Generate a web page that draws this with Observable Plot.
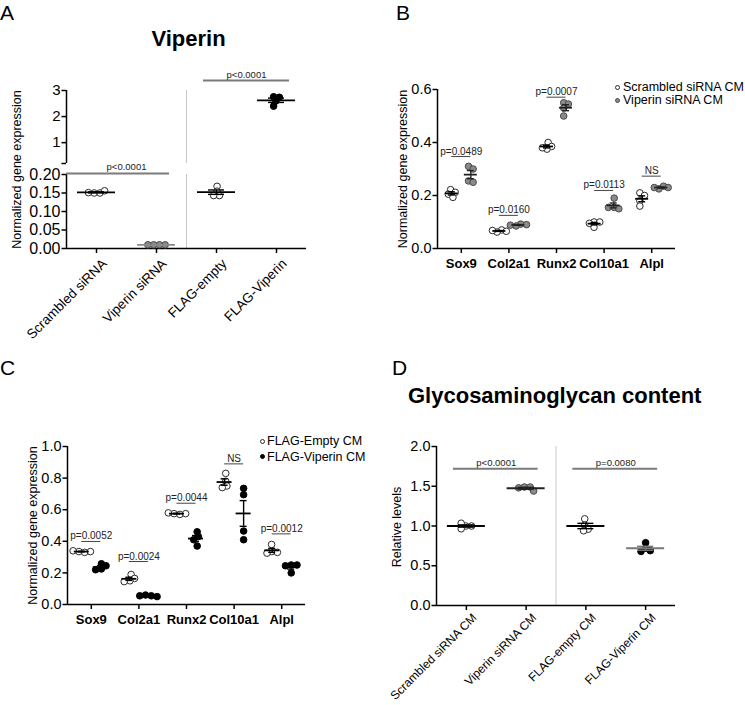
<!DOCTYPE html>
<html><head><meta charset="utf-8">
<script src="https://cdn.jsdelivr.net/npm/d3@7"></script>
<script src="https://cdn.jsdelivr.net/npm/@observablehq/plot@0.6"></script>
<style>
body{margin:0;background:#fff;}
#fig{position:relative;width:745px;height:705px;overflow:hidden;font-family:"Liberation Sans",Arial,Helvetica,sans-serif;color:#000;background:#fff;}
.abs{position:absolute;line-height:1;white-space:nowrap;}
.dot{position:absolute;width:5px;height:5px;border-radius:50%;box-sizing:border-box;}
</style></head><body><div id="fig"></div>
<script>
// ---------------- DATA ----------------
// Panel A: Viperin expression
const aGroups = ["Scrambled siRNA", "Viperin siRNA", "FLAG-empty", "FLAG-Viperin"];
const aScrambled = [0.150, 0.150, 0.151, 0.156];
const aViperinSi = [0.010, 0.010, 0.010, 0.010];
const aFlagEmpty = [0.168, 0.155, 0.143, 0.143];
const aFlagViperin = [2.76, 2.74, 2.60, 2.40];
const aPLabels = ["p<0.0001", "p<0.0001"];
const aBracketY = [0.203, 3.38];
const aTicksLow = [0, 0.05, 0.10, 0.15, 0.20];
const aTicksHigh = [0.2, 1, 2, 3];

// Panel B: Scrambled vs Viperin siRNA CM
const genes = ["Sox9", "Col2a1", "Runx2", "Col10a1", "Alpl"];
const bScrambled = [[0.222,0.212,0.205,0.193],[0.070,0.065,0.062,0.068],[0.400,0.385,0.375,0.380],[0.100,0.100,0.080,0.095],[0.210,0.200,0.180,0.160]];
const bViperin   = [[0.310,0.300,0.255,0.250],[0.092,0.090,0.085,0.088],[0.550,0.545,0.530,0.500],[0.190,0.155,0.150,0.155],[0.235,0.230,0.225,0.230]];
const bPLabels = ["p=0.0489","p=0.0160","p=0.0007","p=0.0113","NS"];
const bBracketY = [0.347,0.125,0.571,0.219,0.273];
const bTicks = [0, 0.2, 0.4, 0.6];
const bLegend = ["Scrambled siRNA CM", "Viperin siRNA CM"];

// Panel C: FLAG-Empty vs FLAG-Viperin CM
const cEmpty   = [[0.335,0.330,0.340,0.335],[0.190,0.165,0.150,0.145],[0.575,0.570,0.580,0.575],[0.830,0.780,0.750,0.740],[0.380,0.335,0.330,0.325]];
const cViperin = [[0.258,0.245,0.225,0.220],[0.060,0.055,0.055,0.050],[0.460,0.430,0.410,0.370],[0.735,0.695,0.465,0.410],[0.250,0.250,0.245,0.200]];
const cPLabels = ["p=0.0052","p=0.0024","p=0.0044","NS","p=0.0012"];
const cBracketY = [0.399,0.272,0.641,0.890,0.447];
const cTicks = [0, 0.2, 0.4, 0.6, 0.8, 1.0];
const cLegend = ["FLAG-Empty CM", "FLAG-Viperin CM"];

// Panel D: Glycosaminoglycan content
const dGroups = ["Scrambled siRNA CM", "Viperin siRNA CM", "FLAG-empty CM", "FLAG-Viperin CM"];
const dScrambled = [1.00, 1.00, 0.965, 1.035];
const dViperinSi = [1.49, 1.49, 1.48, 1.44];
const dFlagEmpty = [1.09, 1.01, 0.96, 0.94];
const dFlagViperin = [0.79, 0.72, 0.69, 0.68];
const dPLabels = ["p<0.0001", "p=0.0080"];
const dBracketY = [1.72, 1.72];
const dTicks = [0, 0.5, 1.0, 1.5, 2.0];

// ---------------- STYLE ----------------
const FONT = '"Liberation Sans", Arial, Helvetica, sans-serif';
const R = 3.3;
const OPEN  = {fill: "white",   stroke: "#2b2b2b", line: "black"};
const GRAY  = {fill: "#8a8a8a", stroke: "#4a4a4a", line: "#222"};
const GRAYL = {fill: "#8a8a8a", stroke: "#4a4a4a", line: "#8a8a8a"};
const BLACK = {fill: "black",   stroke: "black",   line: "black"};
const fig = document.getElementById("fig");

function swarm(vals, ypx, r) {
  const minD = 2 * r * 0.72, step = r * 0.35, placed = [];
  for (const v of vals) {
    const py = ypx(v);
    let dx = 0;
    for (let k = 0; k < 400; k++) {
      const c = (k % 2 ? 1 : -1) * Math.ceil(k / 2) * step;
      if (placed.every(p => Math.hypot(c - p.dx, py - p.py) >= minD)) { dx = c; break; }
    }
    placed.push({dx, py});
  }
  const e = d3.extent(placed, p => p.dx), s = (e[0] + e[1]) / 2;
  return placed.map(p => p.dx - s);
}

function ctxOf(c) {
  return {...c, step: (c.width - c.ml - c.mr) / c.n,
          ypx: d3.scaleLinear(c.yDomain, [c.height - c.mb, c.mt])};
}

function groupMarks(ctx, x, values, st, meanHalf, capHalf) {
  const offs = swarm(values, ctx.ypx, R);
  const pts = values.map((v, i) => ({x: x + offs[i] / ctx.step, y: v}));
  const m = d3.mean(values), se = d3.deviation(values) / Math.sqrt(values.length);
  const mh = meanHalf / ctx.step, ch = capHalf / ctx.step;
  return [
    Plot.dot(pts, {x: "x", y: "y", r: R, fill: st.fill, stroke: st.stroke, strokeWidth: 1}),
    Plot.ruleX([x], {y1: m - se, y2: m + se, stroke: st.line, strokeWidth: 1.4}),
    Plot.ruleY([m - se, m + se], {x1: x - ch, x2: x + ch, stroke: st.line, strokeWidth: 1.4}),
    Plot.ruleY([m], {x1: x - mh, x2: x + mh, stroke: st.line, strokeWidth: 1.8})
  ];
}

function makePlot(ctx, marks) {
  return Plot.plot({
    width: ctx.width, height: ctx.height,
    marginLeft: ctx.ml, marginRight: ctx.mr, marginTop: ctx.mt, marginBottom: ctx.mb,
    x: {type: "linear", domain: [-0.5, ctx.n - 0.5], axis: null, label: null},
    y: {type: "linear", domain: ctx.yDomain, axis: null, label: null},
    style: {fontFamily: FONT, fontSize: "12px", color: "black", background: "transparent", overflow: "visible"},
    marks
  });
}

function place(el, left, top) {
  const d = document.createElement("div");
  d.style.cssText = `position:absolute;left:${left}px;top:${top}px;`;
  d.append(el);
  fig.append(d);
}

function text(str, left, top, size, extra = "") {
  const d = document.createElement("div");
  d.className = "abs";
  d.style.cssText += `left:${left}px;top:${top}px;font-size:${size}px;${extra}`;
  d.textContent = str;
  fig.append(d);
  return d;
}
function legendDot(cx, cy, st) {
  const d = document.createElement("div");
  d.className = "dot";
  d.style.left = (cx - 2.5) + "px"; d.style.top = (cy - 2.5) + "px";
  d.style.background = st.fill; d.style.border = `1px solid ${st.stroke}`;
  fig.append(d);
}

function yAxis(ticks, fmt, size = 14.5) {
  return Plot.axisY({ticks, tickFormat: fmt, tickSize: 4.5, tickPadding: 1.5, fontSize: size, strokeWidth: 1.5, label: null});
}
function xTicks(n) {
  return Plot.axisX({ticks: d3.range(n), tickFormat: () => "", tickSize: 5, strokeWidth: 1.5, label: null});
}
function yLabel(str, dx, dy = 0, size = 12.5) {
  return Plot.text([str], {text: d => d, frameAnchor: "left", rotate: -90, dx, dy, fontSize: size, textAnchor: "middle", lineAnchor: "middle", fill: "black"});
}
function rotLabels(labels, y0, size, dy = 16) {
  return Plot.text(labels, {x: (d, i) => i, y: y0, text: d => d, rotate: -45, textAnchor: "end", lineAnchor: "bottom", dx: 11, dy, fontSize: size, fill: "black"});
}

// ---------------- PANEL A ----------------
{
  const low = ctxOf({width: 370, height: 345, ml: 66, mr: 64, mt: 174, mb: 97, n: 4, yDomain: [0, 0.2]});
  const high = ctxOf({width: 370, height: 170, ml: 66, mr: 64, mt: 90, mb: 7, n: 4, yDomain: [0.2, 3]});
  const ext = 13 / low.step;
  const lowMarks = [
    Plot.ruleX([1.5], {stroke: "#c8c8c8", strokeWidth: 1}),
    Plot.ruleX([-0.5], {stroke: "black", strokeWidth: 1.5}),
    Plot.ruleY([0], {stroke: "black", strokeWidth: 1.5}),
    yAxis(aTicksLow, d3.format(".2f"), 16),
    xTicks(4),
    rotLabels(aGroups, 0, 13.5),
    yLabel("Normalized gene expression", -50, -42),
    Plot.ruleY([aBracketY[0]], {x1: -0.5, x2: 1 + ext, stroke: "#7b7b7b", strokeWidth: 2}),
    Plot.text([aPLabels[0]], {x: 0.5, y: aBracketY[0], text: d => d, dy: -3, lineAnchor: "bottom", fontSize: 9.5, fill: "#222"}),
    ...groupMarks(low, 0, aScrambled, OPEN, 19, 8),
    ...groupMarks(low, 1, aViperinSi, GRAYL, 19, 8),
    ...groupMarks(low, 2, aFlagEmpty, OPEN, 19, 8)
  ];
  const highMarks = [
    Plot.ruleX([1.5], {stroke: "#c8c8c8", strokeWidth: 1}),
    Plot.ruleX([-0.5], {stroke: "black", strokeWidth: 1.5}),
    yAxis(aTicksHigh, d => d < 0.5 ? "" : d3.format("d")(d), 15),
    Plot.ruleY([aBracketY[1]], {x1: 2 - ext, x2: 3 + ext, stroke: "#7b7b7b", strokeWidth: 2}),
    Plot.text([aPLabels[1]], {x: 2.5, y: aBracketY[1], text: d => d, dy: -3, lineAnchor: "bottom", fontSize: 9.5, fill: "#222"}),
    ...groupMarks(high, 3, aFlagViperin, BLACK, 19, 8)
  ];
  place(makePlot(low, lowMarks), 0, 0);
  place(makePlot(high, highMarks), 0, 0);
  text("A", 0, 2, 21);
  text("Viperin", 0, 28.4, 22, "font-weight:bold;width:377px;text-align:center;");
}

// ---------------- PANELS B & C ----------------
function genePanel(ctx, g1, g2, st1, st2, pLabels, bracketY, ticks, label, meanHalf) {
  const off = 0.2;
  const marks = [
    Plot.ruleX([-0.5], {stroke: "black", strokeWidth: 1.5}),
    Plot.ruleY([ctx.yDomain[0]], {stroke: "black", strokeWidth: 1.5}),
    yAxis(ticks, d3.format(".1f")),
    xTicks(ctx.n),
    Plot.text(genes, {x: (d, i) => i, y: ctx.yDomain[0], text: d => d, dy: 15, fontWeight: "bold", fontSize: 13, lineAnchor: "middle", fill: "black"}),
    yLabel(label, -35),
    Plot.ruleY(bracketY, {x1: (d, i) => i - off, x2: (d, i) => i + off, y: d => d, stroke: "#444", strokeWidth: 1}),
    Plot.text(pLabels, {x: (d, i) => i, y: (d, i) => bracketY[i], text: d => d, dy: -2, lineAnchor: "bottom", fontSize: 10, fill: "#222"})
  ];
  genes.forEach((gname, i) => {
    marks.push(...groupMarks(ctx, i - off, g1[i], st1, meanHalf, 3.5));
    marks.push(...groupMarks(ctx, i + off, g2[i], st2, meanHalf, 3.5));
  });
  return makePlot(ctx, marks);
}
{
  const b = ctxOf({width: 375, height: 300, ml: 67, mr: 70, mt: 89, mb: 52, n: 5, yDomain: [0, 0.6]});
  place(genePanel(b, bScrambled, bViperin, OPEN, GRAY, bPLabels, bBracketY, bTicks, "Normalized gene expression", 6.5), 370, 0);
  text("B", 396, 1.7, 21);
  legendDot(617.5, 87.3, OPEN); text(bLegend[0], 623, 81.2, 12.5);
  legendDot(617.5, 100, GRAY);  text(bLegend[1], 623, 93.9, 12.5);
}
{
  const c = ctxOf({width: 370, height: 365, ml: 67, mr: 65, mt: 106, mb: 101, n: 5, yDomain: [0, 1.0]});
  place(genePanel(c, cEmpty, cViperin, OPEN, BLACK, cPLabels, cBracketY, cTicks, "Normalized gene expression", 7.5), 0, 340);
  text("C", 0, 356.7, 21);
  legendDot(262, 441, OPEN);  text(cLegend[0], 267, 434.9, 12.5);
  legendDot(262, 456.7, BLACK); text(cLegend[1], 267, 450.6, 12.5);
}

// ---------------- PANEL D ----------------
{
  const d = ctxOf({width: 375, height: 365, ml: 66, mr: 70, mt: 106, mb: 100, n: 4, yDomain: [0, 2]});
  const e1 = 13 / d.step, e2 = 12 / d.step;
  const marks = [
    Plot.ruleX([1.5], {stroke: "#c8c8c8", strokeWidth: 1}),
    Plot.ruleX([-0.5], {stroke: "black", strokeWidth: 1.5}),
    Plot.ruleY([0], {stroke: "black", strokeWidth: 1.5}),
    yAxis(dTicks, d3.format(".1f")),
    xTicks(4),
    rotLabels(dGroups, 0, 12, 13),
    yLabel("Relative levels", -40, 1),
    Plot.ruleY(dBracketY, {x1: (v, i) => 2 * i - e1, x2: (v, i) => 2 * i + 1 + e2, y: v => v, stroke: "#7b7b7b", strokeWidth: 2}),
    Plot.text(dPLabels, {x: (v, i) => 2 * i + 0.5, y: (v, i) => dBracketY[i], text: v => v, dy: -3, lineAnchor: "bottom", fontSize: 9.5, fill: "#222"}),
    ...groupMarks(d, 0, dScrambled, OPEN, 19, 8),
    ...groupMarks(d, 1, dViperinSi, GRAY, 19, 8),
    ...groupMarks(d, 2, dFlagEmpty, OPEN, 19, 8),
    ...groupMarks(d, 3, dFlagViperin, {...BLACK, line: "#777"}, 19, 8)
  ];
  place(makePlot(d, marks), 370, 340);
  text("D", 392, 357, 21);
  text("Glycosaminoglycan content", 408, 384.7, 22, "font-weight:bold;");
}
</script></body></html>
